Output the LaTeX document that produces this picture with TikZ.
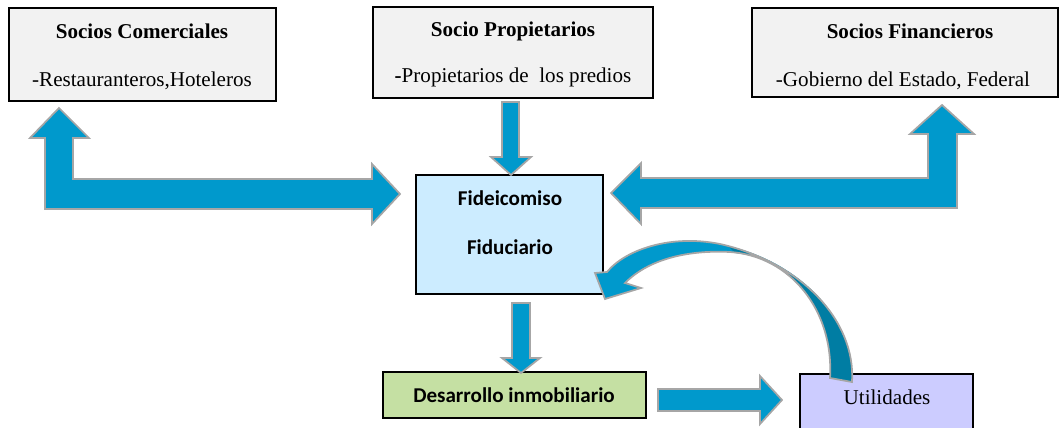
\documentclass[tikz,border=0pt]{standalone}
\usepackage{fontspec}
\setmainfont{Liberation Serif}
\newfontfamily\calibri{Carlito}
\usetikzlibrary{positioning,calc}
\definecolor{arrBlue}{HTML}{0099CC}
\definecolor{arrDark}{HTML}{007DA3}
\definecolor{arrEdge}{HTML}{A6A6A6}
\definecolor{boxGray}{HTML}{F2F2F2}
\definecolor{fidBlue}{HTML}{CCECFF}
\definecolor{desGreen}{HTML}{C5E0A3}
\definecolor{utilLila}{HTML}{CCCCFF}
\tikzset{
  box/.style={draw,line width=0.9pt,inner sep=0pt},
  hdr/.style={anchor=base,font=\bfseries\fontsize{12}{14}\selectfont},
  sub/.style={anchor=base,font=\fontsize{12}{14}\selectfont},
  sanshdr/.style={anchor=base,font=\calibri\bfseries\fontsize{12}{14}\selectfont},
  blk/.style={fill=arrBlue,draw=arrEdge,line width=1pt,line join=miter},
}
% curved arrow from Utilidades back to the trust
\newcommand\utilcurve{(852,382) .. controls (856,320) and (800,262) .. (720,244)
  .. controls (670,234) and (625,250) .. (607,272)
  -- (595,273) -- (605,299) -- (641,288) -- (625,283)
  .. controls (650,258) and (690,250) .. (730,252)
  .. controls (790,256) and (834,310) .. (830,378) -- cycle}

\begin{document}
\begin{tikzpicture}[x=0.02cm,y=-0.02cm]
\useasboundingbox (0,0) rectangle (1060,428);

% partners
\node[box, fill=boxGray, minimum width=5.34cm, minimum height=1.86cm] (com) at (142.5,54.5) {};
\node[hdr] at (142,39) {Socios Comerciales};
\node[sub] at (142,87) {-Restauranteros,Hoteleros};

\node[box, fill=boxGray, minimum width=5.6cm, minimum height=1.82cm] (prop) at (513,52.5) {};
\node[hdr] at (513,37) {Socio Propietarios};
\node[sub] at (513,83) {\textbf{-}Propietarios de\ \ los predios};

\node[box, fill=boxGray, minimum width=6.12cm, minimum height=1.78cm] (fin) at (905,52.5) {};
\node[hdr] at (910,39) {Socios Financieros};
\node[sub] at (903,87) {-Gobierno del Estado, Federal};

% trust, development, profits
\node[box, fill=fidBlue, minimum width=3.74cm, minimum height=2.38cm] (fid) at (509.5,234.5) {};
\node[sanshdr] at (510,206) {Fideicomiso};
\node[sanshdr] at (510,255) {Fiduciario};

\node[box, fill=desGreen, minimum width=5.26cm, minimum height=0.92cm] (des) at (514.5,395) {};
\node[sanshdr] at (514,402) {Desarrollo inmobiliario};

\node[box, fill=utilLila, minimum width=3.46cm, minimum height=1.24cm] (util) at (886.5,405) {};
\node[sub] at (887,404) {Utilidades};

% block arrows
\draw[blk] (45,209) -- (372,209) -- (372,224) -- (400,194) -- (372,164) -- (372,179)
  -- (73,179) -- (73,138) -- (89,138) -- (59,108) -- (30,138) -- (45,138) -- cycle;
\draw[blk] (957,208) -- (641,208) -- (641,224) -- (611,193) -- (641,163) -- (641,178)
  -- (928,178) -- (928,134) -- (910,134) -- (942,105) -- (974,134) -- (957,134) -- cycle;
\draw[blk] (502,102) -- (519,102) -- (519,157) -- (531,157) -- (511,175) -- (491,157) -- (502,157) -- cycle;
\draw[blk] (512,303) -- (530,303) -- (530,358) -- (540,358) -- (521,373) -- (502,358) -- (512,358) -- cycle;
\draw[blk] (658,389) -- (760,389) -- (760,376) -- (782,400) -- (760,424) -- (760,411) -- (658,411) -- cycle;

\fill[arrBlue] \utilcurve;
\fill[arrDark] (852,382) .. controls (856,320) and (800,262) .. (728,246)
  -- (735,253) .. controls (790,258) and (834,310) .. (830,378) -- cycle;
\draw[draw=arrEdge, line width=1pt, line join=miter] \utilcurve;
\end{tikzpicture}
\end{document}
